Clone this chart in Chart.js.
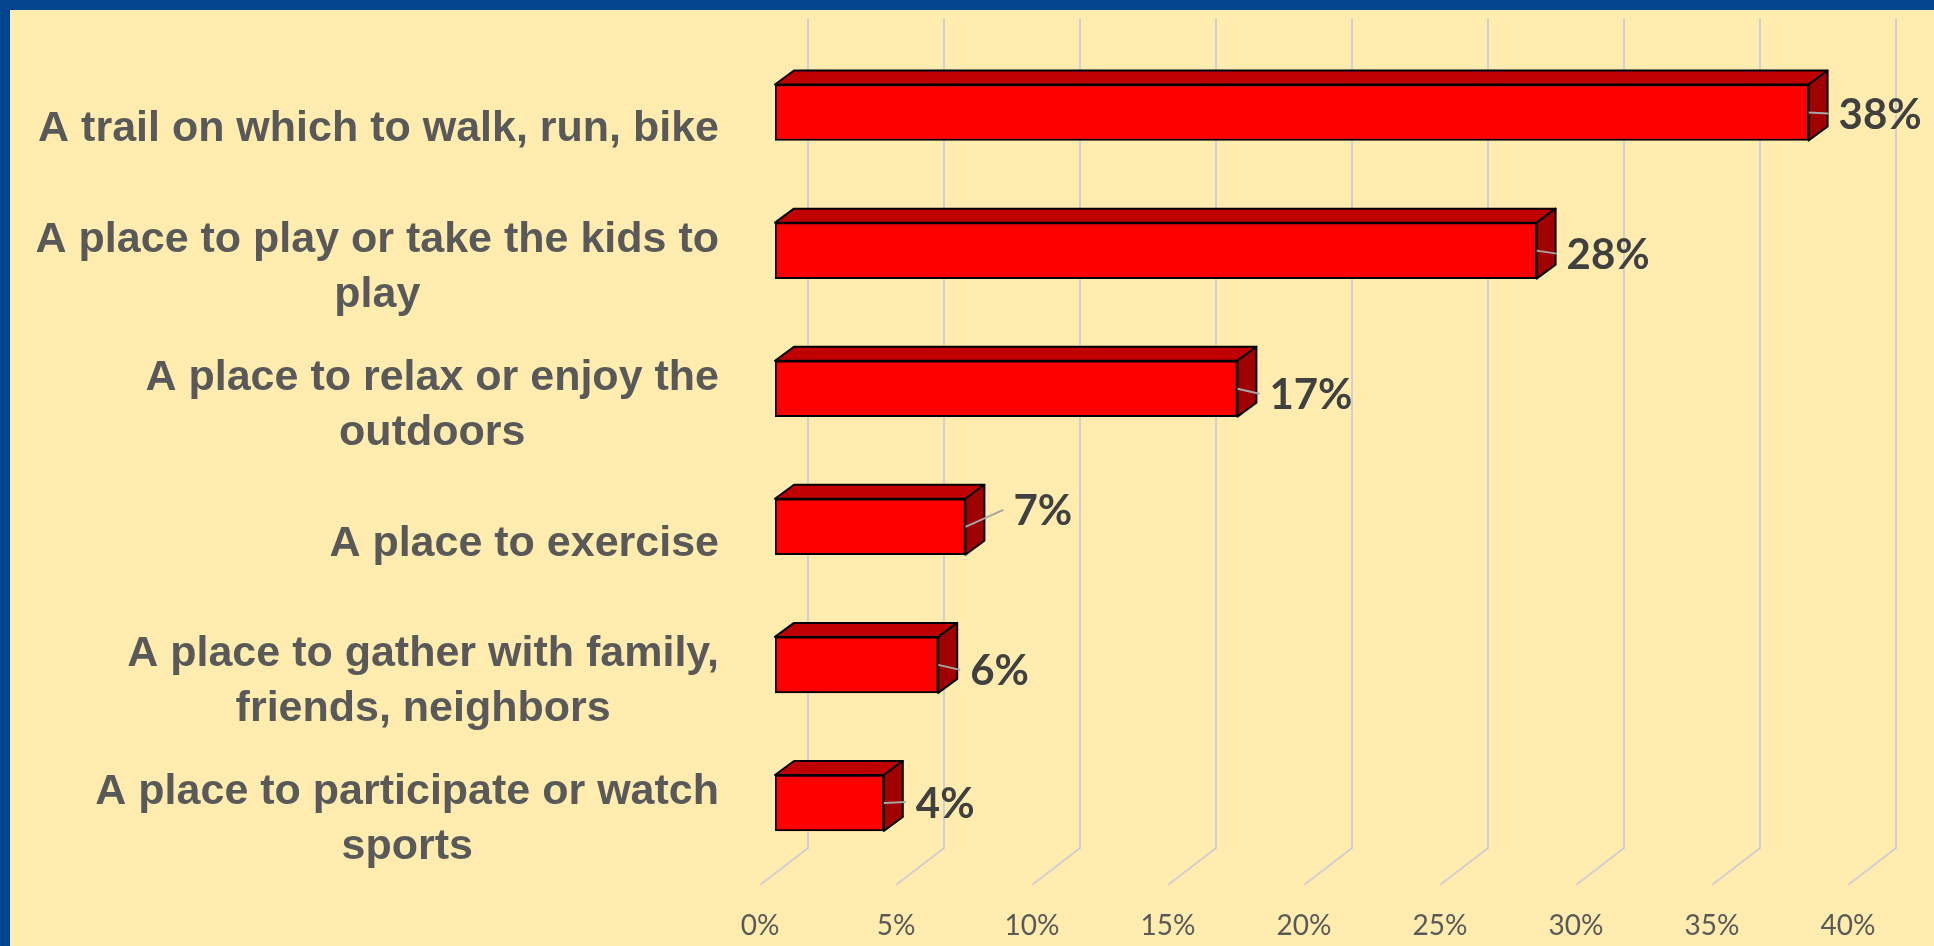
<!DOCTYPE html>
<html>
<head>
<meta charset="utf-8">
<title>Park features</title>
<script src="https://cdn.jsdelivr.net/npm/chart.js"></script>
<style>
  html, body { margin: 0; padding: 0; background: #03468f; }
  canvas { display: block; }
</style>
</head>
<body>
<canvas id="featureChart" width="1934" height="946"></canvas>
<script>
// Categories (multi-line labels) and share of respondents in %
const categories = [
  ['A trail on which to walk, run, bike'],
  ['A place to play or take the kids to', 'play'],
  ['A place to relax or enjoy the', 'outdoors'],
  ['A place to exercise'],
  ['A place to gather with family,', 'friends, neighbors'],
  ['A place to participate or watch', 'sports']
];
const shares = [38, 28, 17, 7, 6, 4];
const axisMin = 0;
const axisMax = 40;
const axisStep = 5;

// 3d look
const DEPTH_X = 19;        // bar depth, horizontal part
const DEPTH_Y = 14;        // bar depth, vertical part
const GRID_BACK = 33;      // back wall sits this far right of the bar front
const FLOOR_X = 48;        // floor diagonal
const FLOOR_Y = 37;

// nudges for the value labels, [dx, dy]
const labelNudge = [[-2, 0], [-2, 2], [0, 4], [16, -18], [0, 4], [0, -2]];

const backdrop = {
  id: 'backdrop',
  beforeDraw(chart) {
    const ctx = chart.ctx;
    ctx.save();
    ctx.fillStyle = '#03468f';
    ctx.fillRect(0, 0, chart.width, chart.height);
    ctx.fillStyle = '#ffecae';
    ctx.fillRect(10, 10, chart.width - 10, chart.height - 10);
    ctx.restore();
  }
};

// back wall gridlines bending into the floor
const wallGrid = {
  id: 'wallGrid',
  beforeDatasetsDraw(chart) {
    const ctx = chart.ctx;
    const xs = chart.scales.x;
    const bottom = chart.chartArea.bottom - 24;
    ctx.save();
    ctx.strokeStyle = '#d0d0d0';
    ctx.lineWidth = 2;
    xs.ticks.forEach(t => {
      const px = xs.getPixelForValue(t.value) + GRID_BACK;
      ctx.beginPath();
      ctx.moveTo(px, 18);
      ctx.lineTo(px, bottom);
      ctx.lineTo(px - FLOOR_X, bottom + FLOOR_Y);
      ctx.stroke();
    });
    ctx.restore();
  }
};

// top and side faces, then the value labels with leader lines
const bars3d = {
  id: 'bars3d',
  afterDatasetsDraw(chart) {
    const ctx = chart.ctx;
    const meta = chart.getDatasetMeta(0);
    ctx.save();
    ctx.lineJoin = 'round';
    ctx.lineWidth = 2;
    ctx.strokeStyle = '#000';
    meta.data.forEach((bar, i) => {
      const top = bar.y - bar.height / 2;
      const bottom = bar.y + bar.height / 2;
      const left = bar.base;
      const right = bar.x;

      ctx.beginPath();
      ctx.moveTo(left, top);
      ctx.lineTo(left + DEPTH_X, top - DEPTH_Y);
      ctx.lineTo(right + DEPTH_X, top - DEPTH_Y);
      ctx.lineTo(right, top);
      ctx.closePath();
      ctx.fillStyle = '#c00000';
      ctx.fill();
      ctx.stroke();

      ctx.beginPath();
      ctx.moveTo(right, top);
      ctx.lineTo(right + DEPTH_X, top - DEPTH_Y);
      ctx.lineTo(right + DEPTH_X, bottom - DEPTH_Y);
      ctx.lineTo(right, bottom);
      ctx.closePath();
      ctx.fillStyle = '#a00000';
      ctx.fill();
      ctx.stroke();

      const lx = right + DEPTH_X + 13 + labelNudge[i][0];
      const ly = bar.y + 3 + labelNudge[i][1];
      ctx.beginPath();
      ctx.strokeStyle = '#a6a6a6';
      ctx.moveTo(right, bar.y);
      ctx.lineTo(lx - 10, ly - 2);
      ctx.stroke();
      ctx.strokeStyle = '#000';

      ctx.fillStyle = '#404040';
      ctx.font = 'bold 42px Lato';
      ctx.textAlign = 'left';
      ctx.textBaseline = 'middle';
      ctx.fillText(shares[i] + '%', lx, ly);
    });
    ctx.restore();
  }
};

// category labels: block right-aligned, lines centred inside the block
const categoryLabels = {
  id: 'categoryLabels',
  afterDraw(chart) {
    const ctx = chart.ctx;
    const ys = chart.scales.y;
    const rightEdge = chart.chartArea.left - 56;
    const lineHeight = 55;
    ctx.save();
    ctx.font = 'bold 43px "Liberation Sans"';
    ctx.fillStyle = '#595959';
    ctx.textAlign = 'center';
    ctx.textBaseline = 'middle';
    categories.forEach((lines, i) => {
      const widest = Math.max(...lines.map(l => ctx.measureText(l).width));
      const cx = rightEdge - widest / 2;
      const cy = ys.getPixelForValue(i) + 17;
      lines.forEach((l, j) => {
        ctx.fillText(l, cx, cy + (j - (lines.length - 1) / 2) * lineHeight);
      });
    });
    ctx.restore();
  }
};

const chartConfig = {
  type: 'bar',
  data: {
    labels: categories,
    datasets: [{
      data: shares,
      backgroundColor: '#ff0000',
      borderColor: '#000',
      borderWidth: 2,
      borderSkipped: false,
      barThickness: 56
    }]
  },
  options: {
    indexAxis: 'y',
    responsive: false,
    animation: false,
    layout: { padding: { left: 0, top: 43.5, right: 71, bottom: 0 } },
    scales: {
      x: {
        min: axisMin,
        max: axisMax,
        grid: { display: false },
        border: { display: false },
        ticks: {
          stepSize: axisStep,
          callback: v => v + '%',
          color: '#595959',
          font: { family: 'Lato', size: 28 },
          padding: 29,
          labelOffset: -15,
          maxRotation: 0
        },
        afterFit(scale) { scale.height = 74; }
      },
      y: {
        grid: { display: false },
        border: { display: false },
        ticks: { display: false },
        afterFit(scale) { scale.width = 775; }
      }
    },
    plugins: {
      legend: { display: false },
      tooltip: { enabled: false }
    }
  },
  plugins: [backdrop, wallGrid, bars3d, categoryLabels]
};

new Chart(document.getElementById('featureChart'), chartConfig);
</script>
</body>
</html>
